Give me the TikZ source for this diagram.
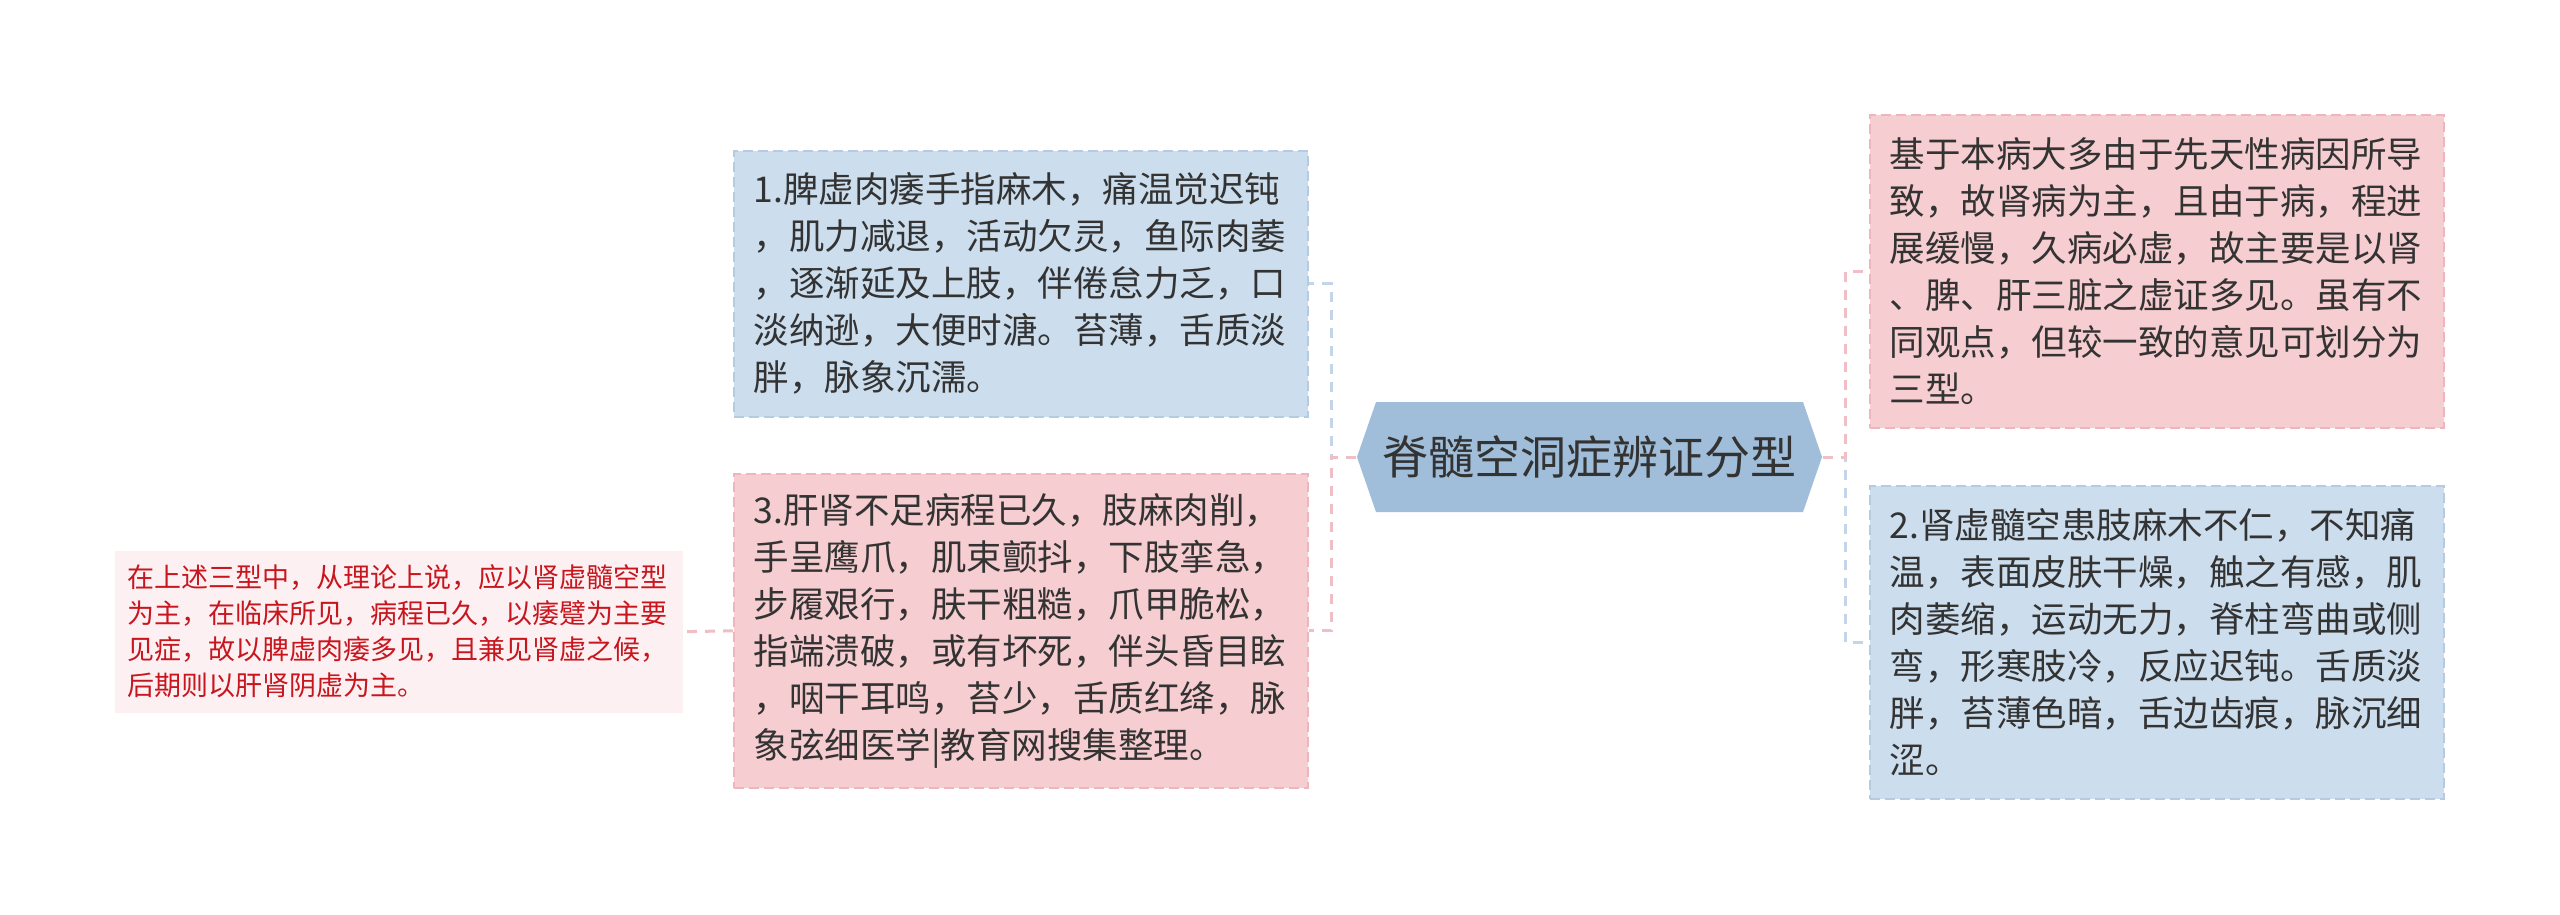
\documentclass[tikz,border=0pt]{standalone}
\usepackage{fontspec}
\newfontfamily\cjk{Noto Sans CJK SC}
\definecolor{bluefill}{RGB}{204,221,237}
\definecolor{blueborder}{RGB}{182,203,226}
\definecolor{pinkfill}{RGB}{246,205,208}
\definecolor{pinkborder}{RGB}{238,182,188}
\definecolor{hexfill}{RGB}{160,190,218}
\definecolor{bluecon}{RGB}{196,213,233}
\definecolor{pinkcon}{RGB}{240,190,197}
\definecolor{notefill}{RGB}{252,240,242}
\definecolor{notetext}{RGB}{200,22,30}
\definecolor{maintext}{RGB}{51,51,51}
\tikzset{
  box/.style={anchor=north west, align=left, inner xsep=6pt, inner ysep=0pt,
    text width=160.2pt, text=maintext, dashed, dash pattern=on 3pt off 1.5pt,
    line width=0.5pt, font={\cjk\fontsize{10.65pt}{14.1pt}\selectfont}},
  bluebox/.style={box, fill=bluefill, draw=blueborder},
  pinkbox/.style={box, fill=pinkfill, draw=pinkborder},
  notebox/.style={anchor=north west, align=left, inner xsep=3.9pt, inner ysep=0pt,
    text width=162.6pt, text=notetext, fill=notefill,
    minimum height=48.6pt, font={\cjk\fontsize{8.1pt}{10.8pt}\selectfont}},
  conn/.style={line width=0.9pt, dash pattern=on 3pt off 2.4pt},
  bconn/.style={conn, draw=bluecon},
  pconn/.style={conn, draw=pinkcon}
}
\begin{document}
\begin{tikzpicture}[x=0.3pt, y=-0.3pt]
\useasboundingbox (0,0) rectangle (2560,914);
\fill[white] (0,0) rectangle (2560,914);
% hub hexagon
\fill[hexfill] (1357,457) -- (1376,402) -- (1803,402) -- (1822,457) -- (1803,512) -- (1376,512) -- cycle;
\node[inner sep=0pt, minimum width=139.5pt, minimum height=33pt, text=maintext,
  font={\cjk\fontsize{13.8pt}{16pt}\selectfont}] (hub) at (1589.5,457) {脊髓空洞症辨证分型};
% left branch boxes
\node[bluebox, minimum height=79.8pt] (b1) at (733,150) {1.脾虚肉痿手指麻木，痛温觉迟钝\\，肌力减退，活动欠灵，鱼际肉萎\\，逐渐延及上肢，伴倦怠力乏，口\\淡纳逊，大便时溏。苔薄，舌质淡\\胖，脉象沉濡。};
\node[pinkbox, minimum height=94.2pt] (b3) at (733,473) {3.肝肾不足病程已久，肢麻肉削，\\手呈鹰爪，肌束颤抖，下肢挛急，\\步履艰行，肤干粗糙，爪甲脆松，\\指端溃破，或有坏死，伴头昏目眩\\，咽干耳鸣，苔少，舌质红绛，脉\\象弦细医学|教育网搜集整理。};
% right branch boxes
\node[pinkbox, minimum height=93.9pt] (r1) at (1869,114) {基于本病大多由于先天性病因所导\\致，故肾病为主，且由于病，程进\\展缓慢，久病必虚，故主要是以肾\\、脾、肝三脏之虚证多见。虽有不\\同观点，但较一致的意见可划分为\\三型。};
\node[bluebox, minimum height=93.9pt] (r2) at (1869,485) {2.肾虚髓空患肢麻木不仁，不知痛\\温，表面皮肤干燥，触之有感，肌\\肉萎缩，运动无力，脊柱弯曲或侧\\弯，形寒肢冷，反应迟钝。舌质淡\\胖，苔薄色暗，舌边齿痕，脉沉细\\涩。};
% note
\node[notebox] (note) at (114,550) {在上述三型中，从理论上说，应以肾虚髓空型\\为主，在临床所见，病程已久，以痿躄为主要\\见症，故以脾虚肉痿多见，且兼见肾虚之候，\\后期则以肝肾阴虚为主。};
% connectors
\draw[bconn] (hub.west) -- ++(-25,0) |- (b1.east);
\draw[pconn] (hub.west) -- ++(-25,0) |- (b3.east);
\draw[bconn] (hub.east) -- ++(23,0) |- (r2.west);
\draw[pconn] (hub.east) -- ++(23,0) |- (r1.west);
\draw[pconn] (b3.west) -- (note.east);
\end{tikzpicture}
\end{document}
